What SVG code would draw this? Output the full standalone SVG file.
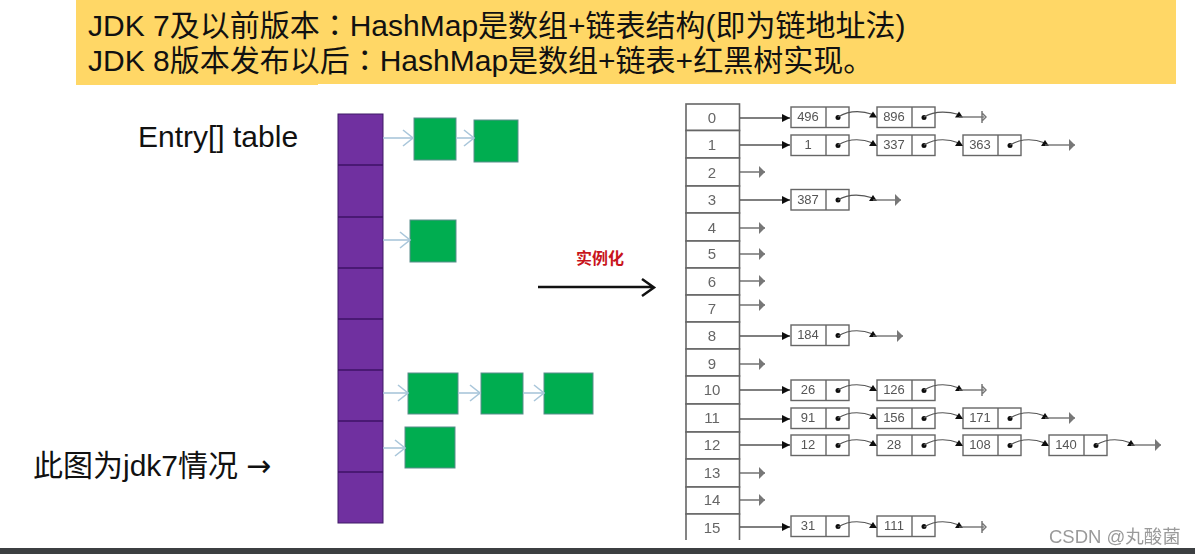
<svg xmlns="http://www.w3.org/2000/svg" width="1195" height="554" viewBox="0 0 1195 554">
<style>
text{font-family:"Liberation Sans","Noto Sans CJK SC",sans-serif}
.hd{font-size:30px;fill:#111}
.cl{font-family:"Noto Sans CJK TC",sans-serif}
.lb{font-size:30px;fill:#111}
.ar{font-family:"DejaVu Sans",sans-serif}
.idx{font-size:15px;fill:#666;text-anchor:middle}
.val{font-size:13px;fill:#555;text-anchor:middle}
.cell{fill:#fff;stroke:#666;stroke-width:1.6}
.ent{fill:#fff;stroke:#666;stroke-width:1.4}
.dv{stroke:#666;stroke-width:1.4}
.dot{fill:#111}
.g{fill:#00ad50;stroke:#5b8d8c;stroke-width:1}
.bar{fill:#7030a0;stroke:#3e1a66;stroke-width:1}
.sep{stroke:#3e1266;stroke-width:1.6}
.blue{fill:none;stroke:#a9c6da;stroke-width:1.6;marker-end:url(#chev)}
.start{fill:none;stroke:#555;stroke-width:1.3;marker-end:url(#tri)}
.nul{fill:none;stroke:#666;stroke-width:1.4;marker-end:url(#gray)}
.lnk{fill:none;stroke:#555;stroke-width:1.2;marker-end:url(#up)}
.tl{fill:none;stroke:#666;stroke-width:1.3;marker-end:url(#gray)}
.term{fill:none;stroke:#666;stroke-width:1.3;marker-end:url(#bar)}
</style>
<defs>
<filter id="soft" x="-5%" y="-5%" width="110%" height="110%"><feGaussianBlur stdDeviation="0.6"/></filter>
<marker id="chev" markerUnits="userSpaceOnUse" markerWidth="14" markerHeight="20" refX="12" refY="10" orient="auto"><path d="M2 2L12 10L2 18" fill="none" stroke="#a9c6da" stroke-width="1.6"/></marker>
<marker id="tri" markerUnits="userSpaceOnUse" markerWidth="10" markerHeight="10" refX="9" refY="5" orient="auto"><path d="M1 1L9 5L1 9Z" fill="#111"/></marker>
<marker id="gray" markerUnits="userSpaceOnUse" markerWidth="8" markerHeight="14" refX="7" refY="7" orient="auto"><path d="M1 1L7 7L1 13Z" fill="#777"/></marker>
<marker id="bar" markerUnits="userSpaceOnUse" markerWidth="8" markerHeight="14" refX="5" refY="7" orient="auto"><path d="M3 1V13M3 3L7 7L3 11" fill="none" stroke="#777" stroke-width="1.5"/></marker>
<marker id="up" markerUnits="userSpaceOnUse" markerWidth="8" markerHeight="8" refX="4" refY="4" orient="0"><path d="M0 7L4 1L8 7Z" fill="#111"/></marker>
<g id="e"><rect class="ent" width="58" height="20.5"/><line class="dv" x1="35" y1="0" x2="35" y2="20.5"/><circle class="dot" cx="47" cy="10.5" r="2.5"/></g>
</defs>
<rect width="1195" height="554" fill="#fff"/>
<g id="banner">
<rect x="76" y="0" width="1100" height="84" fill="#ffd766"/>
<rect x="76" y="84" width="242" height="1" fill="#ffd766"/>
<text class="hd" x="88" y="36">JDK 7及以前版本<tspan class="cl">：</tspan>HashMap是数组+链表结构(即为链地址法)</text>
<text class="hd" x="88" y="71">JDK 8版本发布以后<tspan class="cl">：</tspan>HashMap是数组+链表+红黑树实现。</text>
</g>
<text id="entry-label" class="lb" x="138" y="147">Entry[] table</text>
<text id="jdk7-label" class="lb" x="33" y="476">此图为jdk7情况 <tspan class="ar" x="246">→</tspan></text>
<g id="bucket-array">
<rect class="bar" x="338" y="114" width="45" height="409"/>
<path class="sep" d="M338 165H383M338 217H383M338 268H383M338 319H383M338 370H383M338 421H383M338 472H383"/>
</g>
<g id="green-1"><rect class="g" x="414" y="118" width="42" height="42"/></g>
<g id="green-2"><rect class="g" x="474" y="120" width="44" height="42"/></g>
<g id="green-3"><rect class="g" x="410" y="220" width="46" height="42"/></g>
<g id="green-4"><rect class="g" x="408" y="373" width="50" height="41"/></g>
<g id="green-5"><rect class="g" x="481" y="373" width="42" height="41"/></g>
<g id="green-6"><rect class="g" x="544" y="373" width="49" height="41"/></g>
<g id="green-7"><rect class="g" x="405" y="427" width="50" height="41"/></g>
<g id="connectors-left">
<path class="blue" d="M383 138H413"/><path class="blue" d="M456 138H474"/>
<path class="blue" d="M383 240H410"/>
<path class="blue" d="M383 393H408"/><path class="blue" d="M458 393H480"/><path class="blue" d="M523 393H544"/>
<path class="blue" d="M383 448H405"/>
</g>
<g id="instantiate">
<text x="576" y="264" font-size="16" font-weight="700" fill="#c8141c">实例化</text>
<path d="M538 287H653M642 279L654 287.500L642 296" fill="none" stroke="#111" stroke-width="2.500"/>
</g>
<g id="hash-table" filter="url(#soft)">
<g id="cell-0"><rect class="cell" x="686" y="104" width="53.500" height="26.500"/><text class="idx" x="712" y="123">0</text></g>
<g id="cell-1"><rect class="cell" x="686" y="130.500" width="53.500" height="27.500"/><text class="idx" x="712" y="150">1</text></g>
<g id="cell-2"><rect class="cell" x="686" y="158" width="53.500" height="28"/><text class="idx" x="712" y="178">2</text></g>
<g id="cell-3"><rect class="cell" x="686" y="186" width="53.500" height="27"/><text class="idx" x="712" y="205">3</text></g>
<g id="cell-4"><rect class="cell" x="686" y="213" width="53.500" height="28"/><text class="idx" x="712" y="233">4</text></g>
<g id="cell-5"><rect class="cell" x="686" y="241" width="53.500" height="27"/><text class="idx" x="712" y="259">5</text></g>
<g id="cell-6"><rect class="cell" x="686" y="268" width="53.500" height="27"/><text class="idx" x="712" y="287">6</text></g>
<g id="cell-7"><rect class="cell" x="686" y="295" width="53.500" height="27"/><text class="idx" x="712" y="314">7</text></g>
<g id="cell-8"><rect class="cell" x="686" y="322" width="53.500" height="27"/><text class="idx" x="712" y="341">8</text></g>
<g id="cell-9"><rect class="cell" x="686" y="349" width="53.500" height="27"/><text class="idx" x="712" y="369">9</text></g>
<g id="cell-10"><rect class="cell" x="686" y="376" width="53.500" height="28"/><text class="idx" x="712" y="395">10</text></g>
<g id="cell-11"><rect class="cell" x="686" y="404" width="53.500" height="28"/><text class="idx" x="712" y="423">11</text></g>
<g id="cell-12"><rect class="cell" x="686" y="432" width="53.500" height="27"/><text class="idx" x="712" y="450">12</text></g>
<g id="cell-13"><rect class="cell" x="686" y="459" width="53.500" height="28"/><text class="idx" x="712" y="478">13</text></g>
<g id="cell-14"><rect class="cell" x="686" y="487" width="53.500" height="27"/><text class="idx" x="712" y="505">14</text></g>
<g id="cell-15"><path class="cell" d="M686 540V514H739.500V540" fill="none"/><text class="idx" x="712" y="533">15</text></g>

<g id="n-496"><use href="#e" x="791" y="107"/><text class="val" x="808" y="121">496</text></g>
<g id="n-896"><use href="#e" x="877" y="107"/><text class="val" x="894" y="121">896</text></g>
<g id="n-1"><use href="#e" x="791" y="135"/><text class="val" x="808" y="149">1</text></g>
<g id="n-337"><use href="#e" x="877" y="135"/><text class="val" x="894" y="149">337</text></g>
<g id="n-363"><use href="#e" x="963" y="135"/><text class="val" x="980" y="149">363</text></g>
<g id="n-387"><use href="#e" x="791" y="189.500"/><text class="val" x="808" y="204">387</text></g>
<g id="n-184"><use href="#e" x="791" y="325"/><text class="val" x="808" y="339">184</text></g>
<g id="n-26"><use href="#e" x="791" y="380"/><text class="val" x="808" y="394">26</text></g>
<g id="n-126"><use href="#e" x="877" y="380"/><text class="val" x="894" y="394">126</text></g>
<g id="n-91"><use href="#e" x="791" y="408"/><text class="val" x="808" y="422">91</text></g>
<g id="n-156"><use href="#e" x="877" y="408"/><text class="val" x="894" y="422">156</text></g>
<g id="n-171"><use href="#e" x="963" y="408"/><text class="val" x="980" y="422">171</text></g>
<g id="n-12"><use href="#e" x="791" y="435"/><text class="val" x="808" y="449">12</text></g>
<g id="n-28"><use href="#e" x="877" y="435"/><text class="val" x="894" y="449">28</text></g>
<g id="n-108"><use href="#e" x="963" y="435"/><text class="val" x="980" y="449">108</text></g>
<g id="n-140"><use href="#e" x="1049" y="435"/><text class="val" x="1066" y="449">140</text></g>
<g id="n-31"><use href="#e" x="791" y="516"/><text class="val" x="808" y="530">31</text></g>
<g id="n-111"><use href="#e" x="877" y="516"/><text class="val" x="894" y="530">111</text></g>

<g id="connectors">
<path class="start" d="M740 118H790"/><path class="start" d="M740 145H790"/><path class="start" d="M740 200H790"/><path class="start" d="M740 336H790"/><path class="start" d="M740 390H790"/><path class="start" d="M740 419H790"/><path class="start" d="M740 445H790"/><path class="start" d="M740 527H790"/>
<path class="nul" d="M740 172H765"/><path class="nul" d="M740 228H765"/><path class="nul" d="M740 254H765"/><path class="nul" d="M740 281H765"/><path class="nul" d="M740 305H765"/><path class="nul" d="M740 364H765"/><path class="nul" d="M740 473H765"/><path class="nul" d="M740 500H765"/>

<path class="lnk" d="M838 117C848 111 860 110 873 114.500"/><path class="lnk" d="M924 117C934 111 946 111 959 114.500"/><path class="term" d="M959 117H984"/>
<path class="lnk" d="M838 145C848 139 860 138 873 143"/><path class="lnk" d="M924 145C934 139 946 138 959 143"/><path class="lnk" d="M1010 145C1020 139 1032 138 1045 143"/><path class="tl" d="M1045 145H1075"/>
<path class="lnk" d="M838 200C848 194 860 194 873 198"/><path class="tl" d="M873 200H901"/>
<path class="lnk" d="M838 336C848 330 860 329 873 334"/><path class="tl" d="M873 336H903"/>
<path class="lnk" d="M838 390C848 384 860 383 873 388"/><path class="lnk" d="M924 390C934 384 946 383 959 388"/><path class="term" d="M959 390H984"/>
<path class="lnk" d="M838 418C848 412 860 411 873 416"/><path class="lnk" d="M924 418C934 412 946 411 959 416"/><path class="lnk" d="M1010 418C1020 412 1032 411 1045 416"/><path class="tl" d="M1045 418H1075"/>
<path class="lnk" d="M838 445C848 439 860 438 873 443"/><path class="lnk" d="M924 445C934 439 946 438 959 443"/><path class="lnk" d="M1010 445C1020 439 1032 438 1045 443"/><path class="lnk" d="M1096 445C1106 439 1118 438 1131 443"/><path class="tl" d="M1131 445H1161"/>
<path class="lnk" d="M838 527C848 521 860 520 873 525"/><path class="lnk" d="M924 527C934 521 946 520 959 525"/><path class="term" d="M959 527H984"/>
</g>
</g>
<rect id="footer" x="0" y="548" width="1195" height="6" fill="#3c3f41"/>
<text id="watermark" x="1049" y="543" font-size="18.500" fill="#9a9a9a">CSDN @丸酸菌</text>
</svg>
